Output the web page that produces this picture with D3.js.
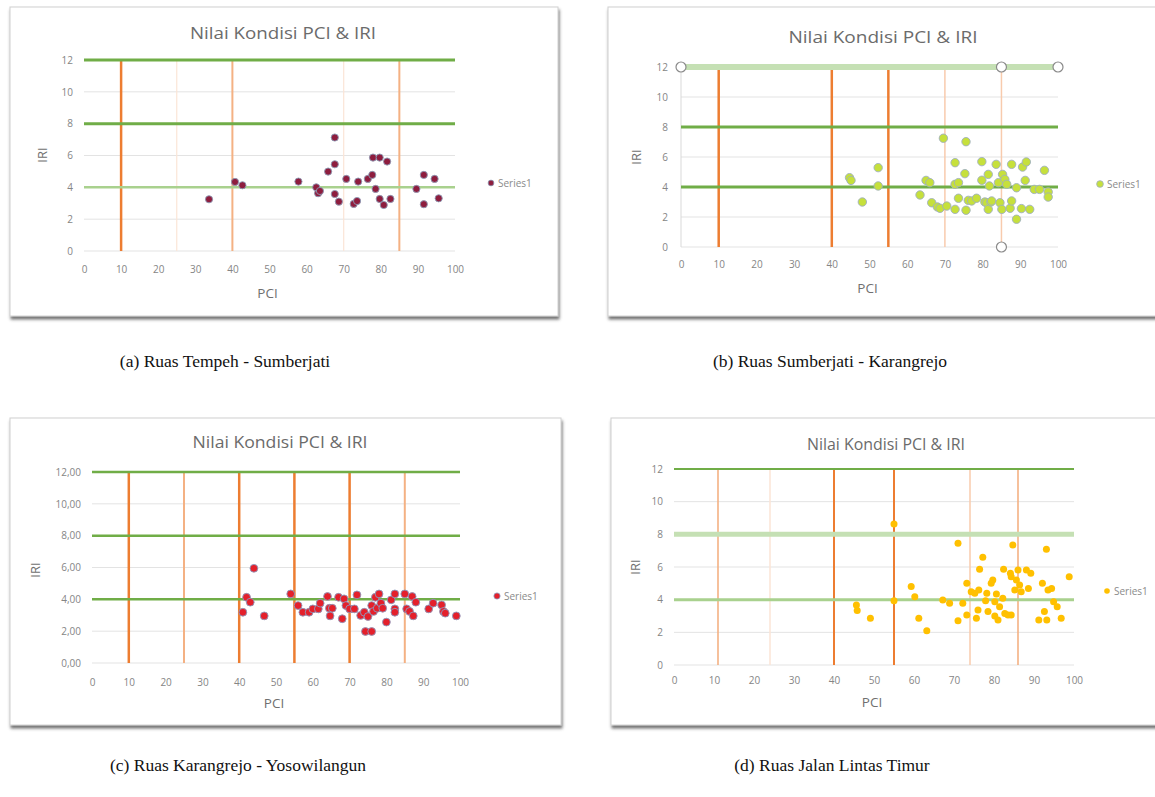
<!DOCTYPE html>
<html><head><meta charset="utf-8">
<script src="https://cdn.jsdelivr.net/npm/d3@7"></script>
<style>html,body{margin:0;padding:0;background:#fff;}svg{display:block;}</style>
</head><body>
<svg id="c" width="1155" height="797"></svg>
<script>
// ---------- DATA ----------
const xTicks = [0,10,20,30,40,50,60,70,80,90,100];
const yTicks = [0,2,4,6,8,10,12];
const iriLimits = [4,8,12];
const chartTitle = "Nilai Kondisi PCI & IRI";
const legendLabel = "Series1";
const captions = ["(a) Ruas Tempeh - Sumberjati","(b) Ruas Sumberjati - Karangrejo","(c) Ruas Karangrejo - Yosowilangun","(d) Ruas Jalan Lintas Timur"];

const pciLimitsA = [10,25,40,70,85];
const pciLimitsB = [10,40,55,70,85];
const pciLimitsC = [10,25,40,55,70,85];
const pciLimitsD = [11,24,40,55,74,86];

const pciA = [33.7,40.7,42.7,57.8,62.6,63.1,63.6,65.8,67.6,67.6,67.6,68.7,70.7,72.7,73.6,73.9,76.5,77.7,77.9,79.7,78.6,79.7,80.8,81.7,82.6,89.6,91.6,91.6,94.5,95.6];
const iriA = [3.25,4.34,4.13,4.36,4.0,3.63,3.77,4.99,7.13,5.45,3.58,3.10,4.53,2.96,3.14,4.36,4.53,4.78,5.87,5.87,3.90,3.27,2.89,5.62,3.27,3.90,4.78,2.94,4.53,3.31];

const pciB = [44.7,45.1,48.1,52.3,52.3,63.4,65.0,66.0,66.5,68.0,68.7,69.6,70.5,72.7,72.7,73.6,72.7,73.6,75.3,75.6,75.6,76.2,77.1,78.4,79.8,79.8,80.6,81.1,81.5,81.5,81.8,82.2,82.4,83.6,84.2,84.6,85.3,85.1,85.9,86.4,87.7,87.3,87.7,89.0,89.0,90.3,90.6,91.3,91.6,92.5,93.7,95.1,96.4,97.4,97.4];
const iriB = [4.62,4.44,3.0,5.29,4.07,3.47,4.44,4.29,2.95,2.67,2.58,7.25,2.73,5.62,4.18,4.29,2.51,3.25,4.89,7.02,2.45,3.11,3.07,3.25,5.69,4.45,3.0,2.95,4.84,2.51,4.07,3.0,3.07,5.51,4.29,2.95,4.84,2.51,4.51,4.18,5.51,2.58,3.07,3.95,1.85,2.56,5.33,4.44,5.67,2.51,3.84,3.84,5.11,3.67,3.33];
const handlesB = [[0,12],[85,12],[100,12],[85,0]];

const pciC = [41.0,42.0,43.0,44.0,46.8,54.0,56.0,57.3,59.0,60.0,61.5,62.0,64.0,64.5,64.7,65.3,67.0,68.0,68.5,69.0,70.0,71.3,72.0,73.0,74.0,74.3,75.0,76.0,76.0,76.5,77.0,77.5,78.0,78.5,79.0,80.0,81.3,82.3,82.3,82.3,85.0,85.5,86.3,87.0,87.3,88.0,91.5,92.7,95.0,95.5,96.0,99.0];
const iriC = [3.19,4.13,3.82,5.95,2.96,4.34,3.61,3.19,3.19,3.40,3.40,3.76,4.18,3.44,2.96,3.44,4.13,2.78,4.03,3.61,3.40,3.40,4.28,2.99,3.19,1.98,2.92,1.98,3.61,3.24,4.13,3.44,4.34,3.76,3.44,2.57,3.97,4.34,3.40,3.19,4.34,3.40,3.24,4.18,2.96,3.82,3.40,3.76,3.65,3.24,3.13,2.96];

const pciD = [45.6,45.8,49.1,55.0,55.0,59.3,60.2,61.2,63.2,67.2,68.9,71.0,71.0,72.2,73.2,73.2,74.3,75.2,75.6,76.0,76.2,76.4,77.2,77.9,78.2,78.5,79.3,79.7,80.2,80.2,80.6,81.0,81.4,82.2,82.4,82.7,83.5,84.1,84.3,84.7,85.2,85.6,86.0,86.4,86.8,88.1,84.3,88.6,89.2,91.2,92.1,92.6,93.1,93.2,93.5,94.4,94.9,95.8,96.8,98.8];
const iriD = [3.67,3.33,2.86,8.63,3.94,4.80,4.18,2.86,2.10,3.98,3.78,2.71,7.45,3.78,5.0,3.06,4.49,4.39,2.86,3.37,4.59,5.86,6.6,3.94,4.39,3.27,5.0,5.2,3.0,3.88,4.35,2.76,3.57,4.08,5.86,3.16,3.06,5.61,5.4,7.35,4.59,5.2,5.82,4.9,4.49,5.82,3.06,4.69,5.61,2.76,5.0,3.27,7.08,2.76,4.59,4.69,3.88,3.57,2.86,5.41];

// ---------- LAYOUT / STYLE ----------
const OR = "#ed7d31", ORm = "#f4b183", ORl = "#f8cbad", ORxl = "#fbe5d6";
const GR = "#70ad47", GRm = "#a9d18e", GRl = "#c5e0b4";
const FONT = "Open Sans, sans-serif";
const panels = [
  {frame:[10,7,548,309], x0:84, x100:455, y0:251, y12:60, titleX:283, titleY:39, titleW:186, xLabY:273, pciY:298, iriX:42, iriY:155, yLabX:73,
   pci:pciA, iri:iriA, limits:pciLimitsA, vStyle:[[OR,2.5],[ORxl,1.2],[ORm,2],[ORxl,1.2],[ORm,2]],
   hStyle:[[GRm,2.5],[GR,3],[GR,3]], fmt:d3.format("d"), fill:"#8e1d3e", stroke:"#8d9bb5", r:3.6, leg:[491,183], cap:[225,367], yAxisLine:false},
  {frame:[608,7,560,309], x0:681, x100:1058, y0:247, y12:67, titleX:883, titleY:43, titleW:189, xLabY:268, pciY:293, iriX:636, iriY:157, yLabX:668,
   pci:pciB, iri:iriB, limits:pciLimitsB, vStyle:[[OR,2.5],[OR,2.5],[OR,2.5],[ORl,1.5],[ORl,1.5]],
   hStyle:[[GR,3],[GR,3],[GRl,6]], fmt:d3.format("d"), fill:"#c6e03c", stroke:"#9fb0c0", r:4.2, leg:[1100,184], cap:[830,367], yAxisLine:true},
  {frame:[10,418,551,307], x0:92, x100:460, y0:663, y12:472, titleX:280, titleY:448, titleW:175, xLabY:686, pciY:708, iriX:35, iriY:570, yLabX:81,
   pci:pciC, iri:iriC, limits:pciLimitsC, vStyle:[[OR,2.5],[ORm,2],[OR,2.5],[OR,2.5],[OR,2.5],[ORm,2]],
   hStyle:[[GR,2.5],[GR,2.5],[GR,2.5]], fmt:d3.format(".2f"), comma:true, fill:"#e4202b", stroke:"#8c9bc0", r:3.9, leg:[497,596], cap:[238,771], yAxisLine:false},
  {frame:[611,418,560,307], x0:674, x100:1074, y0:665, y12:469, titleX:886, titleY:450, titleW:158, xLabY:684, pciY:707, iriX:635, iriY:567, yLabX:663,
   pci:pciD, iri:iriD, limits:pciLimitsD, vStyle:[[ORm,1.6],[ORxl,1.5],[OR,2],[OR,2],[ORl,1.5],[ORm,1.6]],
   hStyle:[[GRm,3],[GRl,5],[GR,2.2]], fmt:d3.format("d"), fill:"#ffc000", stroke:"none", r:3.5, leg:[1107,591], cap:[832,771], yAxisLine:false}
];

const svg = d3.select("#c");
const defs = svg.append("defs");
const f = defs.append("filter").attr("id","sh").attr("x","-5%").attr("y","-5%").attr("width","110%").attr("height","115%");
f.append("feDropShadow").attr("dx",1).attr("dy",3).attr("stdDeviation",1.8).attr("flood-color","#444").attr("flood-opacity",0.75);

panels.forEach((p,i) => {
  const g = svg.append("g");
  const [fx,fy,fw,fh] = p.frame;
  g.append("rect").attr("x",fx).attr("y",fy).attr("width",fw).attr("height",fh)
    .attr("fill","#fff").attr("stroke","#d0d0d0").attr("stroke-width",1).attr("filter","url(#sh)");

  const x = d3.scaleLinear().domain([0,100]).range([p.x0,p.x100]);
  const y = d3.scaleLinear().domain([0,12]).range([p.y0,p.y12]);

  g.append("g").selectAll("line").data(yTicks).join("line")
    .attr("x1",x(0)).attr("x2",x(100)).attr("y1",d=>y(d)).attr("y2",d=>y(d))
    .attr("stroke","#e3e3e3").attr("stroke-width",1);
  if (p.yAxisLine) g.append("line").attr("x1",x(0)).attr("x2",x(0)).attr("y1",y(0)).attr("y2",y(12)).attr("stroke","#d9d9d9");

  g.append("g").selectAll("line").data(p.limits).join("line")
    .attr("x1",d=>x(d)).attr("x2",d=>x(d)).attr("y1",y(0)).attr("y2",y(12))
    .attr("stroke",(d,k)=>p.vStyle[k][0]).attr("stroke-width",(d,k)=>p.vStyle[k][1]);
  g.append("g").selectAll("line").data(iriLimits).join("line")
    .attr("x1",x(0)).attr("x2",x(100)).attr("y1",d=>y(d)).attr("y2",d=>y(d))
    .attr("stroke",(d,k)=>p.hStyle[k][0]).attr("stroke-width",(d,k)=>p.hStyle[k][1]);

  const xa = d3.axisBottom(x).tickValues(xTicks).tickSize(0).tickFormat(d3.format("d"));
  const xg = g.append("g").attr("transform",`translate(0,${p.xLabY-10})`).call(xa);
  xg.select(".domain").remove();
  xg.selectAll("text").attr("fill","#858585").attr("font-size",10).attr("font-family",FONT);
  const ya = d3.axisLeft(y).tickValues(yTicks).tickSize(0)
    .tickFormat(d => p.comma ? p.fmt(d).replace(".",",") : p.fmt(d));
  const yg = g.append("g").attr("transform",`translate(${p.yLabX+3},0)`).call(ya);
  yg.select(".domain").remove();
  yg.selectAll("text").attr("fill","#858585").attr("font-size",10).attr("font-family",FONT);

  g.append("text").attr("x",p.titleX).attr("y",p.titleY).attr("text-anchor","middle")
    .attr("font-family",FONT).attr("font-size",16).attr("fill","#6b6b6b")
    .attr("textLength",p.titleW).attr("lengthAdjust","spacingAndGlyphs").text(chartTitle);
  g.append("text").attr("x",(x(0)+x(100))/2 - 2).attr("y",p.pciY).attr("text-anchor","middle")
    .attr("font-family",FONT).attr("font-size",13.5).attr("fill","#707070").text("PCI");
  g.append("text").attr("transform",`translate(${p.iriX},${p.iriY}) rotate(-90)`).attr("text-anchor","middle")
    .attr("dy","0.35em").attr("font-family",FONT).attr("font-size",13).attr("fill","#707070").text("IRI");

  const pts = p.pci.map((v,k)=>[v,p.iri[k]]);
  g.append("g").selectAll("circle").data(pts).join("circle")
    .attr("cx",d=>x(d[0])).attr("cy",d=>y(d[1])).attr("r",p.r)
    .attr("fill",p.fill).attr("stroke",p.stroke).attr("stroke-width",0.9);

  if (i===1) {
    g.append("g").selectAll("circle").data(handlesB).join("circle")
      .attr("cx",d=>x(d[0])).attr("cy",d=>y(d[1])).attr("r",5)
      .attr("fill","#fff").attr("stroke","#8a8a8a").attr("stroke-width",1.2);
  }

  g.append("circle").attr("cx",p.leg[0]).attr("cy",p.leg[1]).attr("r",p.r*0.8).attr("fill",p.fill).attr("stroke",p.stroke).attr("stroke-width",0.8);
  g.append("text").attr("x",p.leg[0]+7).attr("y",p.leg[1]).attr("dy","0.35em")
    .attr("font-family",FONT).attr("font-size",10).attr("fill","#8a8a8a").text(legendLabel);

  svg.append("text").attr("x",p.cap[0]).attr("y",p.cap[1]).attr("text-anchor","middle")
    .attr("font-family","Liberation Serif, Times New Roman, serif").attr("font-size",17.5).attr("fill","#111").text(captions[i]);
});
</script>
</body></html>
